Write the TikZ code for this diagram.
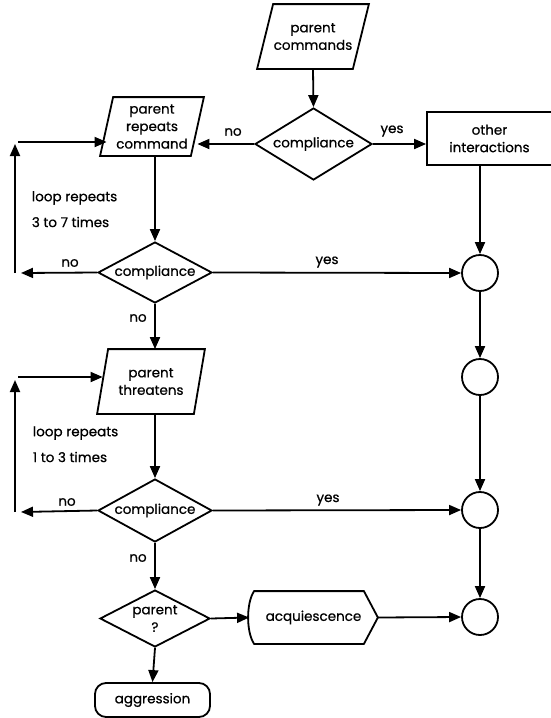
\documentclass[tikz,border=0pt]{standalone}
\usepackage{fontspec}
\setmainfont{Poppins}[FakeBold=0.7]
\usetikzlibrary{arrows.meta,shapes.geometric,calc}
\begin{document}
\begin{tikzpicture}[x=1pt,y=-1pt, line width=1.8pt,
  every node/.style={font=\fontsize{13.5}{17.5}\selectfont, align=center},
  arr/.style={-{Triangle[length=12pt,width=10pt]}},
  dia/.style={diamond, draw, inner sep=0pt, aspect=2},
  circ/.style={circle, draw, minimum size=36pt, inner sep=0pt},
  lbl/.style={inner sep=0pt},
  box/.style={draw=none, inner sep=0pt},
  looptxt/.style={inner sep=0pt, anchor=west}]
\useasboundingbox (0,0) rectangle (550,718);

% parent commands
\node[box, minimum width=94pt, minimum height=63pt] (pc) at (313,36.5) {parent\\commands};
\draw ($(pc.south west)+(-8,0)$) -- ($(pc.north west)+(8,0)$) -- ($(pc.north east)+(8,0)$) -- ($(pc.south east)+(-8,0)$) -- cycle;

% first compliance
\node[dia, minimum width=117pt, minimum height=72pt] (c1) at (313.5,144) {compliance};

% parent repeats command
\node[box, minimum width=89pt, minimum height=57pt] (pr) at (152,126.5) {parent\\repeats\\command};
\draw ($(pr.south west)+(-6.5,0)$) -- ($(pr.north west)+(6.5,0)$) -- ($(pr.north east)+(6.5,0)$) -- ($(pr.south east)+(-6.5,0)$) -- cycle;

% other interactions
\node[draw, minimum width=125pt, minimum height=53pt, inner sep=0pt] (oi) at (489.5,138.5) {other\\interactions};

% second compliance
\node[dia, minimum width=114pt, minimum height=61pt] (c2) at (155,272.5) {compliance};

% parent threatens
\node[box, minimum width=95pt, minimum height=63pt] (pt) at (151,381.5) {parent\\threatens};
\draw ($(pt.south west)+(-5.5,0)$) -- ($(pt.north west)+(5.5,0)$) -- ($(pt.north east)+(5.5,0)$) -- ($(pt.south east)+(-5.5,0)$) -- cycle;

% third compliance
\node[dia, minimum width=114pt, minimum height=63pt] (c3) at (155,510.5) {compliance};

% parent ?
\node[dia, minimum width=110pt, minimum height=57pt] (pq) at (155,618.5) {parent\\?};

% acquiescence
\node[box, minimum width=127pt, minimum height=51pt] (aq) at (313.5,617.5) {acquiescence};
\draw ($(aq.north west)+(5,0)$) -- ($(aq.north east)+(-14,0)$) -- (aq.east) -- ($(aq.south east)+(-14,0)$) -- ($(aq.south west)+(5,0)$)
  .. controls ($(aq.south west)+(-3,-12)$) and ($(aq.north west)+(-3,12)$) .. ($(aq.north west)+(5,0)$) -- cycle;

% aggression
\node[draw, rounded corners=11pt, minimum width=115pt, minimum height=34pt, inner sep=0pt] (ag) at (152.5,700) {aggression};

% circles
\node[circ] (k1) at (480,273) {};
\node[circ] (k2) at (480,377) {};
\node[circ] (k3) at (480,510) {};
\node[circ] (k4) at (480,617) {};

% loop coordinates
\coordinate (l1h) at (18,142);
\coordinate (l1t) at (15,144);
\coordinate (l1b) at (15,273);
\coordinate (l1e) at (21,273);
\coordinate (l2h) at (18,377);
\coordinate (l2t) at (15,380);
\coordinate (l2b) at (15,512);
\coordinate (l2e) at (21,512);

% connectors
\draw[arr] (pc.south) -- (c1.north);
\draw[arr] (c1.west) -- (pr.east |- c1.west);
\draw[arr] (c1.east) -- (oi.west |- c1.east);
\draw[arr] (c2.north |- pr.south) -- (c2.north);
\draw[arr] (c2.west) -- (l1e);
\draw[arr] (l1b) -- (l1t);
\draw[arr] (l1h) -- (pr.west |- l1h);
\draw[arr] (c2.east) -- (k1.west);
\draw[arr] (k1.north |- oi.south) -- (k1.north);
\draw[arr] (c2.south) -- (c2.south |- pt.north);
\draw[arr] (k1.south) -- (k2.north);
\draw[arr] (l2h) -- (pt.west |- l2h);
\draw[arr] (c3.north |- pt.south) -- (c3.north);
\draw[arr] (c3.west) -- (l2e);
\draw[arr] (l2b) -- (l2t);
\draw[arr] (c3.east) -- (k3.west);
\draw[arr] (k2.south) -- (k3.north);
\draw[arr] (c3.south) -- (pq.north);
\draw[arr] (pq.east) -- (aq.west);
\draw[arr] (aq.east) -- (k4.west);
\draw[arr] (k3.south) -- (k4.north);
\draw[arr] (pq.south) -- (ag.north);

% labels
\node[lbl] (n1) at (233,132) {no};
\node[lbl] (y1) at (392,131) {yes};
\node[lbl] (n2) at (70,263) {no};
\node[lbl] (y2) at (327,262) {yes};
\node[lbl] (n2b) at (138,318) {no};
\node[lbl] (n3) at (67,502) {no};
\node[lbl] (y3) at (328,500) {yes};
\node[lbl] (n3b) at (138,558) {no};

\node[looptxt] (la1) at (31,198) {loop repeats};
\node[looptxt] (la2) at (31,222) {3 to 7 times};
\node[looptxt] (lb1) at (32,433) {loop repeats};
\node[looptxt] (lb2) at (32,457) {1 to 3 times};
\end{tikzpicture}
\end{document}
